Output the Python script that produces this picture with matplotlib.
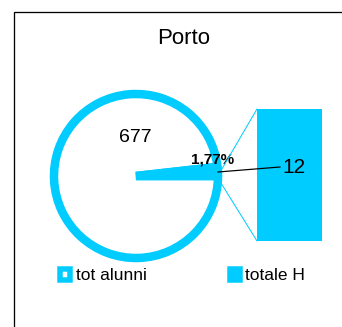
import matplotlib.pyplot as plt
from matplotlib.patches import Patch, Rectangle, ConnectionPatch
from matplotlib.lines import Line2D
import numpy as np

plt.rcParams['font.family'] = ['Liberation Sans', 'DejaVu Sans']

title = 'Porto'
series_names = ['tot alunni', 'totale H']
tot_alunni = 677
totale_h = 12

cyan = '#00CCFF'
W, H = 342, 327
DPI = 100


def px(x, y):
    # pixel position (origin top left) -> data coords of the main axes
    return x, H - y


def lw_px(n):
    return n * 72.0 / DPI


share = totale_h / tot_alunni
pct_label = '{:.2f}%'.format(share * 100).replace('.', ',')

fig = plt.figure(figsize=(W / DPI, H / DPI), dpi=DPI)
ax = fig.add_axes([0, 0, 1, 1])
ax.set_xlim(0, W)
ax.set_ylim(0, H)
ax.set_aspect('equal')
ax.axis('off')

# outer frame of the chart area
ax.add_patch(Rectangle(px(14, 360), 400, 348, fill=False, edgecolor='black',
                       linewidth=lw_px(1.3)))

ax.text(*px(184, 38), title, ha='center', va='center', fontsize=16)

# pie: whole of tot alunni with the totale H part cut out
cx, cy = px(136, 176)
r = 82
wedges, _ = ax.pie([tot_alunni - totale_h, totale_h],
                   colors=['white', cyan],
                   startangle=share * 360,
                   center=(cx, cy), radius=r, frame=True,
                   wedgeprops=dict(edgecolor=cyan, linewidth=lw_px(8.5),
                                   joinstyle='bevel'))
ax.set_xlim(0, W)
ax.set_ylim(0, H)
ax.axis('off')

ax.text(*px(135, 137), str(tot_alunni), ha='center', va='center', fontsize=14)
ax.text(*px(213, 160), pct_label, ha='center', va='center', fontsize=11,
        fontweight='bold')

# secondary bar for the cut-out slice
bax = fig.add_axes([257 / W, 1 - 241 / H, 65 / W, 132 / H])
bax.bar(0, totale_h, width=1, color=cyan)
bax.set_xlim(-0.5, 0.5)
bax.set_ylim(0, totale_h)
bax.axis('off')
bax.text(0.57, 0.56, str(totale_h), transform=bax.transAxes, ha='center',
         va='center', fontsize=15)

# connector lines from the pie to the bar
for ang, corner in [(3.5, (0, 1)), (-4.5, (0, 0))]:
    a = np.deg2rad(ang)
    start = (cx + (r + 3) * np.cos(a), cy + (r + 3) * np.sin(a))
    con = ConnectionPatch(xyA=start, coordsA=ax.transData,
                          xyB=corner, coordsB=bax.transAxes,
                          color=cyan, linewidth=lw_px(1))
    fig.add_artist(con)

# leader line to the "12" label, drawn above the bar
p0, p1 = px(218, 172), px(280, 167)
fig.add_artist(Line2D([p0[0], p1[0]], [p0[1], p1[1]], transform=ax.transData,
                      color='black', linewidth=lw_px(1.2), zorder=5))

handles = [Patch(facecolor='white', edgecolor=cyan, linewidth=lw_px(5.5)),
           Patch(facecolor=cyan, edgecolor=cyan, linewidth=lw_px(5.5))]
ax.legend(handles, series_names, loc='center left',
          bbox_to_anchor=(60 / W, 1 - 276 / H), ncol=2, frameon=False,
          fontsize=12.5, handlelength=0.6, handleheight=0.6,
          handletextpad=0.3, columnspacing=4.8, borderpad=0, borderaxespad=0)

fig.savefig('out.png', dpi=DPI)
